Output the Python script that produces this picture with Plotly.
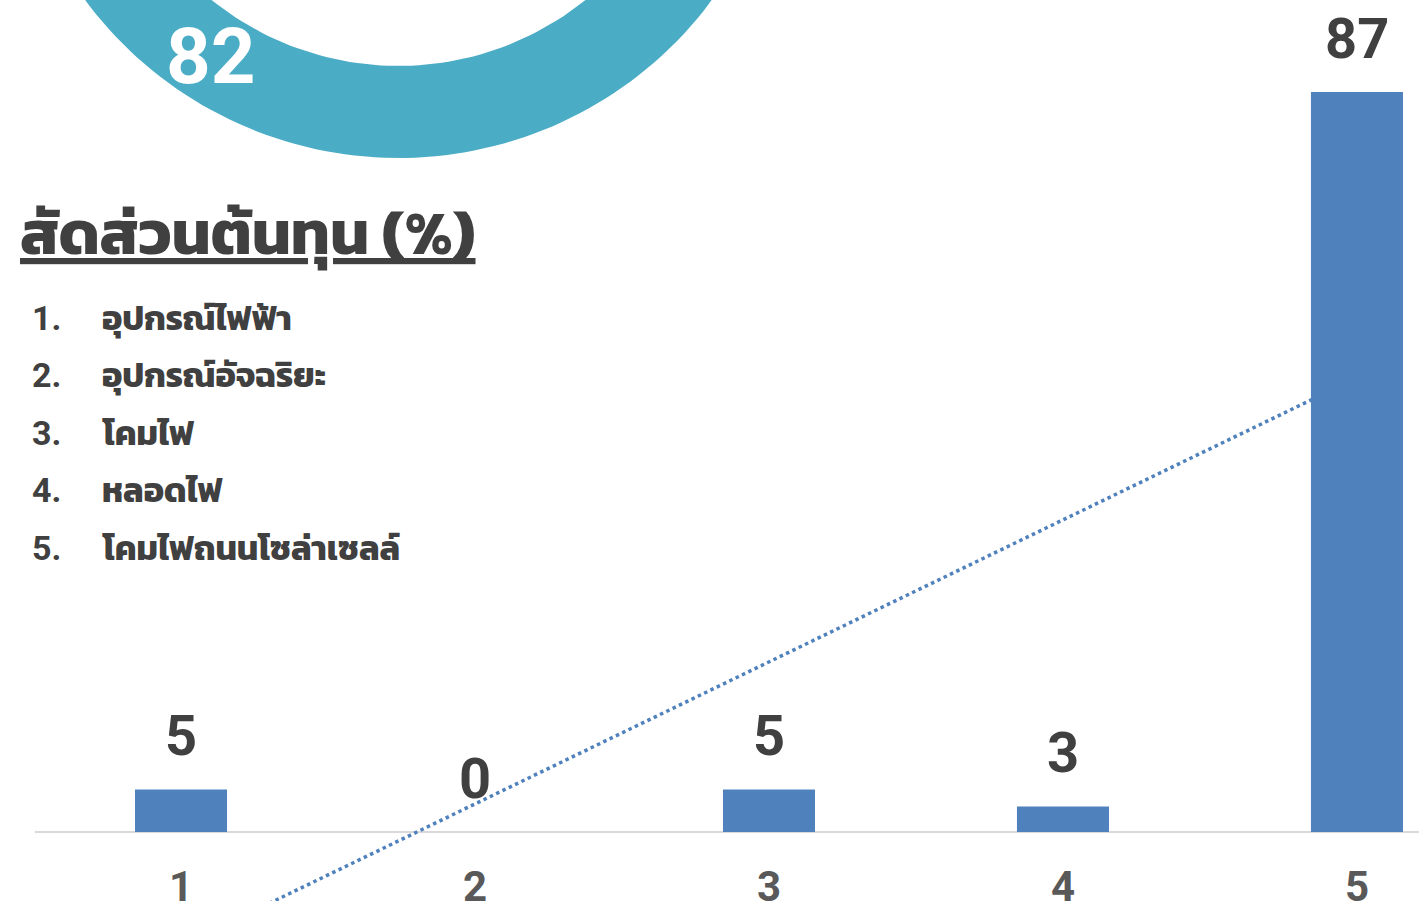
import numpy as np
import plotly.graph_objects as go

# ---- data ----
categories = [1, 2, 3, 4, 5]
cost_share = [5, 0, 5, 3, 87]
tick_labels = ["1", "2", "3", "4", "5"]
item_names = [
    "อุปกรณ์ไฟฟ้า",
    "อุปกรณ์อัจฉริยะ",
    "โคมไฟ",
    "หลอดไฟ",
    "โคมไฟถนนโซล่าเซลล์",
]
donut_values = [82, 18]
donut_colors = ["#4BACC6", "#F79646"]
title_text = "สัดส่วนต้นทุน (%)"

W, H = 1419, 901
TEXT = "#404040"
BAR = "#4F81BD"
THAI = "Kanit, 'Noto Sans Thai', 'Noto Sans', Roboto, sans-serif"
NUM = "Roboto, 'Noto Sans', sans-serif"

fig = go.Figure()

# ---- linear trendline (behind the bars, base axes) ----
slope, intercept = np.polyfit(categories, cost_share, 1)
trend_x = np.array([categories[0], categories[-1]], dtype=float)
fig.add_trace(
    go.Scatter(
        x=trend_x,
        y=slope * trend_x + intercept,
        mode="lines",
        line={"color": BAR, "width": 3.5, "dash": "dot"},
        hoverinfo="skip",
        xaxis="x",
        yaxis="y",
    )
)

# ---- bars (overlay axes so they sit on top of the trendline) ----
fig.add_trace(
    go.Bar(
        x=categories,
        y=cost_share,
        width=0.313,
        marker={"color": BAR, "line": {"width": 0}},
        xaxis="x3",
        yaxis="y3",
    )
)

# ---- donut, drawn as filled ring sectors on its own axes ----
hole = 0.764
start = 0.0
total = float(sum(donut_values))
for val, col in zip(donut_values, donut_colors):
    frac = val / total
    th = np.linspace(start, start - frac * 2 * np.pi, 200)  # counterclockwise from 12 o'clock
    xs = np.concatenate([np.sin(th), hole * np.sin(th[::-1])])
    ys = np.concatenate([np.cos(th), hole * np.cos(th[::-1])])
    fig.add_trace(
        go.Scatter(
            x=xs, y=ys, fill="toself", mode="lines",
            line={"width": 0, "color": col}, fillcolor=col,
            hoverinfo="skip", xaxis="x2", yaxis="y2",
        )
    )
    mid = start - frac * np.pi
    rr = (1 + hole) / 2 + 0.016
    fig.add_trace(
        go.Scatter(
            x=[rr * np.sin(mid)], y=[rr * np.cos(mid)], mode="text",
            text=[str(val)], textposition="middle center",
            textfont={"family": NUM, "size": 78, "color": "white", "weight": "bold"},
            hoverinfo="skip", xaxis="x2", yaxis="y2",
        )
    )
    start -= frac * 2 * np.pi

# ---- value labels above bars ----
for c, v in zip(categories, cost_share):
    fig.add_annotation(
        x=c, y=v, xref="x3", yref="y3", text=f"<b>{v}</b>",
        showarrow=False, yanchor="bottom", yshift=18,
        font={"family": NUM, "size": 56, "color": TEXT},
    )

# ---- title and item list ----
fig.add_annotation(
    x=18 / W, y=1 - 232 / H, xref="paper", yref="paper", xanchor="left", yanchor="middle",
    text=f"<b><u>{title_text}</u></b>", showarrow=False,
    font={"family": THAI, "size": 62, "color": TEXT},
)
for i, name in enumerate(item_names):
    yy = 1 - (318 + i * 57.5) / H
    fig.add_annotation(
        x=30 / W, y=yy, xref="paper", yref="paper", xanchor="left", yanchor="middle",
        text=f"<b>{i + 1}.</b>", showarrow=False,
        font={"family": NUM, "size": 34, "color": TEXT},
    )
    fig.add_annotation(
        x=100 / W, y=yy, xref="paper", yref="paper", xanchor="left", yanchor="middle",
        text=f"<b>{name}</b>", showarrow=False,
        font={"family": THAI, "size": 34, "color": TEXT},
    )

x_range = [0.5034, 5.211]
y_range = [-8.112, 97.82]
fig.update_layout(
    width=W, height=H,
    autosize=False,
    margin={"l": 0, "r": 0, "t": 0, "b": 0},
    paper_bgcolor="white", plot_bgcolor="rgba(0,0,0,0)",
    showlegend=False,
    xaxis={
        "domain": [35 / W, 1], "range": x_range, "anchor": "free", "position": 69 / H,
        "tickvals": categories, "ticktext": [f"<b>{t}</b>" for t in tick_labels],
        "showgrid": False, "zeroline": False, "showline": False, "ticks": "",
        "ticklabelstandoff": 26, "automargin": False,
        "tickfont": {"family": NUM, "size": 42, "color": "#595959"},
    },
    yaxis={
        "domain": [0, 1], "range": y_range, "visible": True, "showticklabels": False,
        "showgrid": False, "zeroline": True, "zerolinecolor": "#D9D9D9", "zerolinewidth": 2,
        "showline": False, "ticks": "", "automargin": False,
    },
    xaxis3={"overlaying": "x", "range": x_range, "visible": False, "anchor": "y3"},
    yaxis3={"overlaying": "y", "range": y_range, "visible": False, "anchor": "x3"},
    xaxis2={"domain": [0, 1], "range": [-398.5 / 390, (W - 398.5) / 390], "visible": False, "anchor": "y2"},
    yaxis2={"domain": [0, 1], "range": [-(232 + H) / 390, -232 / 390], "visible": False, "anchor": "x2"},
)

# drop the browser's default 8px page margin so the figure sits flush at the corner
fig.write_html(
    "out.html",
    config={"displayModeBar": False, "responsive": False},
    post_script="document.body.style.margin='0';document.body.style.overflow='hidden';",
)
